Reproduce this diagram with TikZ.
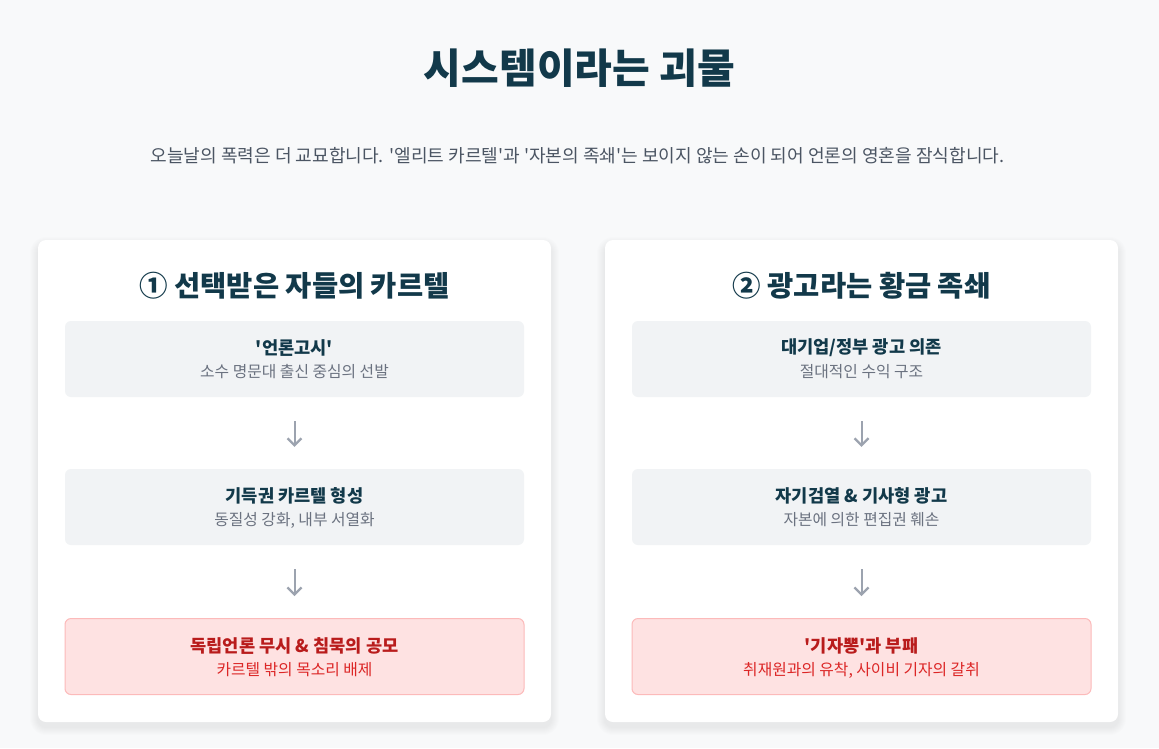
\documentclass[tikz,border=0pt]{standalone}
\usepackage{fontspec}
\setmainfont{Noto Sans CJK KR}[Ligatures=TeXOff]
\usetikzlibrary{arrows.meta}
\definecolor{bg}{HTML}{F8F9FA}
\definecolor{ink}{HTML}{12394A}
\definecolor{subink}{HTML}{4B5563}
\definecolor{gfill}{HTML}{F1F3F5}
\definecolor{gsub}{HTML}{6B7280}
\definecolor{arrowc}{HTML}{9CA3AF}
\definecolor{rfill}{HTML}{FEE2E2}
\definecolor{rline}{HTML}{FCBABA}
\definecolor{rhead}{HTML}{B91C1C}
\definecolor{rsub}{HTML}{DC2626}
\tikzset{
  card/.style={fill=white, rounded corners=8pt, minimum width=513pt, minimum height=482pt, inner sep=0pt},
  gbox/.style={fill=gfill, rounded corners=6pt, minimum width=459pt, minimum height=76pt, inner sep=0pt},
  rbox/.style={fill=rfill, draw=rline, line width=1pt, rounded corners=6pt, minimum width=459pt, minimum height=76pt, inner sep=0pt},
  headtxt/.style={font=\fontsize{17.6}{21}\selectfont\bfseries, text=ink, inner sep=0pt},
  subtxt/.style={font=\fontsize{15.8}{19}\selectfont, text=gsub, inner sep=0pt},
  rheadtxt/.style={font=\fontsize{17.6}{21}\selectfont\bfseries, text=rhead, inner sep=0pt},
  rsubtxt/.style={font=\fontsize{15.8}{19}\selectfont, text=rsub, inner sep=0pt},
  cardtitle/.style={font=\fontsize{28.5}{33}\selectfont\bfseries, text=ink, inner sep=0pt},
  arr/.style={draw=arrowc, line width=2pt, -{Straight Barb[length=7pt,width=14pt,line width=2.2pt]}, shorten <=24pt, shorten >=22pt},
}
\begin{document}
\begin{tikzpicture}[x=1pt,y=-1pt]
\useasboundingbox[fill=bg] (0,0) rectangle (1159,748);
% shadows
\foreach \i in {1,...,8}{
  \fill[black, opacity=0.009, rounded corners=8pt+\i pt] (38-\i,240-\i+5) rectangle (551+\i,722+\i+5);
  \fill[black, opacity=0.009, rounded corners=8pt+\i pt] (605-\i,240-\i+5) rectangle (1118+\i,722+\i+5);
}
\node[font=\fontsize{41}{48}\selectfont\bfseries, text=ink, inner sep=0pt] (title) at (579.5,68) {시스템이라는 괴물};
\node[font=\fontsize{18.1}{22}\selectfont, text=subink, inner sep=0pt] (sub) at (577.5,156) {오늘날의 폭력은 더 교묘합니다. '엘리트 카르텔'과 '자본의 족쇄'는 보이지 않는 손이 되어 언론의 영혼을 잠식합니다.};

% left card
\node[card] (c1) at (294.5,481) {};
\node[cardtitle] (t1) at (294.5,286) {① 선택받은 자들의 카르텔};
\node[gbox] (a1) at (294.5,359) {};
\node[headtxt] (a1h) at (294.5,348) {'언론고시'};
\node[subtxt] (a1s) at (294.5,372) {소수 명문대 출신 중심의 선발};
\node[gbox] (a2) at (294.5,507) {};
\node[headtxt] (a2h) at (294.5,496) {기득권 카르텔 형성};
\node[subtxt] (a2s) at (294.5,520) {동질성 강화, 내부 서열화};
\node[rbox] (a3) at (294.5,656.5) {};
\node[rheadtxt] (a3h) at (294.5,646) {독립언론 무시 \& 침묵의 공모};
\node[rsubtxt] (a3s) at (294.5,670) {카르텔 밖의 목소리 배제};
\draw[arr] (a1) -- (a2);
\draw[arr] (a2) -- (a3);

% right card
\node[card] (c2) at (861.5,481) {};
\node[cardtitle] (t2) at (861.5,286) {② 광고라는 황금 족쇄};
\node[gbox] (b1) at (861.5,359) {};
\node[headtxt] (b1h) at (861.5,348) {대기업/정부 광고 의존};
\node[subtxt] (b1s) at (861.5,372) {절대적인 수익 구조};
\node[gbox] (b2) at (861.5,507) {};
\node[headtxt] (b2h) at (861.5,496) {자기검열 \& 기사형 광고};
\node[subtxt] (b2s) at (861.5,520) {자본에 의한 편집권 훼손};
\node[rbox] (b3) at (861.5,656.5) {};
\node[rheadtxt] (b3h) at (861.5,646) {'기자뽕'과 부패};
\node[rsubtxt] (b3s) at (861.5,670) {취재원과의 유착, 사이비 기자의 갈취};
\draw[arr] (b1) -- (b2);
\draw[arr] (b2) -- (b3);
\end{tikzpicture}
\end{document}
